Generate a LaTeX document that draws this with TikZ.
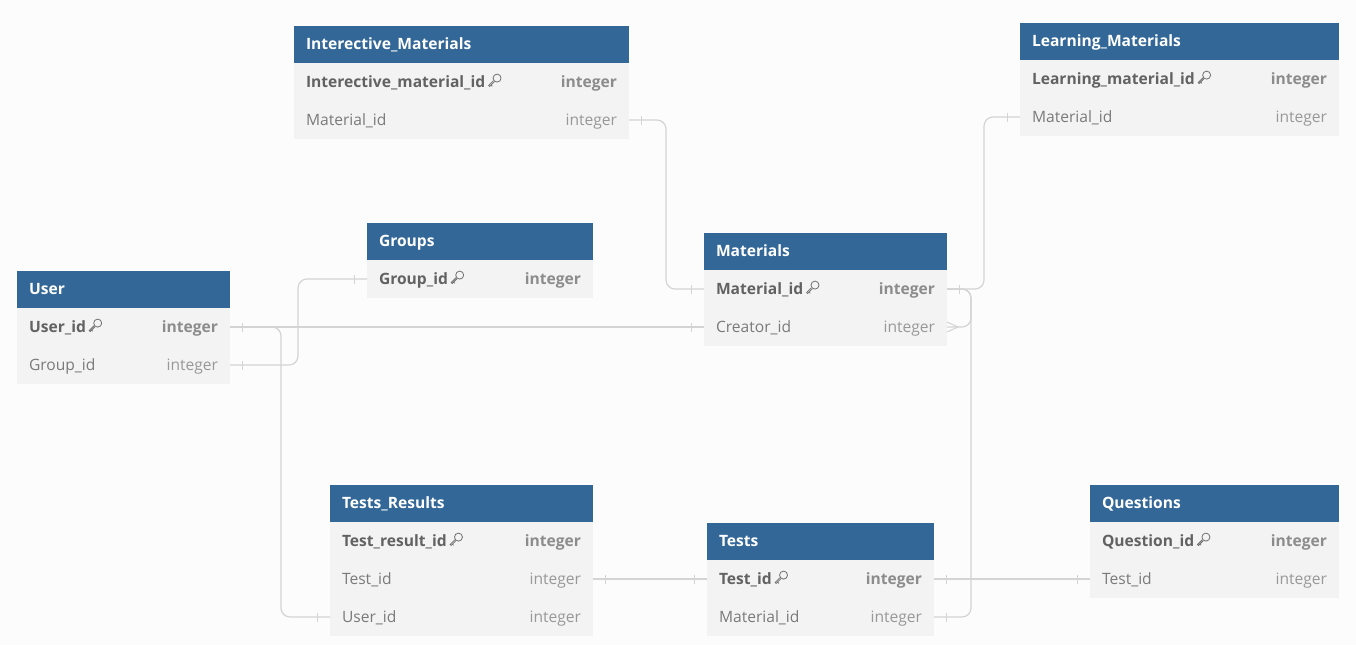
\documentclass[tikz,border=0pt]{standalone}
\usepackage{fontspec}
\setmainfont{Open Sans}
\usepackage{tikz}
\usetikzlibrary{positioning, decorations.markings}
\definecolor{headblue}{RGB}{50,103,151}
\definecolor{rowgray}{RGB}{243,243,243}
\definecolor{bgwhite}{RGB}{252,252,252}
\definecolor{linegray}{RGB}{212,212,212}
\definecolor{pkname}{RGB}{98,98,98}
\definecolor{pktype}{RGB}{140,140,140}
\definecolor{fkname}{RGB}{122,122,122}
\definecolor{fktype}{RGB}{152,152,152}
\definecolor{keygray}{RGB}{112,112,112}

\newcommand{\erfont}{\fontsize{15.6}{18}\selectfont}
\newcommand{\keyicon}{\tikz[baseline=-1pt, x=1pt, y=1pt, line width=0.8pt, sharp corners]{%
  \draw[keygray] (8.4,8.4) circle (4);
  \draw[keygray] (5.8,4.8) -- (1,0) -- (0,1) -- (4.8,5.8)
                 (2.4,1.4) -- (3.6,0.2);}}
\newcommand{\pkrow}[2]{{\bfseries\color{pkname}#1\hspace{3pt}\keyicon}\hfill{\bfseries\color{pktype}#2}}
\newcommand{\fkrow}[2]{{\color{fkname}#1}\hfill{\color{fktype}#2}}

\begin{document}
\begin{tikzpicture}[x=1pt, y=-1pt,
  tablehead/.style={rectangle, fill=headblue, text=white, font=\erfont\bfseries, anchor=north west, outer sep=0pt, inner xsep=12pt, inner ysep=0pt, minimum height=37pt, text height=10pt, text depth=0pt, text width=#1},
  field/.style={rectangle, fill=rowgray, font=\erfont, outer sep=0pt, inner xsep=12pt, inner ysep=0pt, minimum height=38pt, text height=11pt, text depth=0pt, text width=#1},
  link/.style={draw=linegray, line width=1.2pt, rounded corners=9pt},
  ends/.style={postaction={decorate}, decoration={markings,
    mark=at position 12.5pt with {\draw[linegray, line width=1pt, sharp corners] (0,-4.5pt) -- (0,4.5pt);},
    mark=at position -12.5pt with {\draw[linegray, line width=1pt, sharp corners] (0,-4.5pt) -- (0,4.5pt);}}},
  crowstart/.style={postaction={decorate}, decoration={markings,
    mark=at position 0pt with {\draw[linegray, line width=1pt, sharp corners] (0,-5pt) -- (11pt,0) -- (0,5pt);}}}
]

\fill[bgwhite] (0,0) rectangle (1356,645);
\useasboundingbox (0,0) rectangle (1356,645);

% --- User ---
\node[tablehead=189pt] (user) at (17,271) {User};
\node[field=189pt, below=0pt of user] (user-id) {\pkrow{User\_id}{integer}};
\node[field=189pt, below=0pt of user-id] (user-group) {\fkrow{Group\_id}{integer}};

% --- Groups ---
\node[tablehead=202pt] (groups) at (367,223) {Groups};
\node[field=202pt, below=0pt of groups] (groups-id) {\pkrow{Group\_id}{integer}};

% --- Interective_Materials ---
\node[tablehead=311pt] (inter) at (294,26) {Interective\_Materials};
\node[field=311pt, below=0pt of inter] (inter-id) {\pkrow{Interective\_material\_id}{integer}};
\node[field=311pt, below=0pt of inter-id] (inter-mat) {\fkrow{Material\_id}{integer}};

% --- Learning_Materials ---
\node[tablehead=295pt] (learning) at (1020,23) {Learning\_Materials};
\node[field=295pt, below=0pt of learning] (learning-id) {\pkrow{Learning\_material\_id}{integer}};
\node[field=295pt, below=0pt of learning-id] (learning-mat) {\fkrow{Material\_id}{integer}};

% --- Materials ---
\node[tablehead=219pt] (materials) at (704,233) {Materials};
\node[field=219pt, below=0pt of materials] (materials-id) {\pkrow{Material\_id}{integer}};
\node[field=219pt, below=0pt of materials-id] (materials-creator) {\fkrow{Creator\_id}{integer}};

% --- Tests_Results ---
\node[tablehead=239pt] (results) at (330,485) {Tests\_Results};
\node[field=239pt, below=0pt of results] (results-id) {\pkrow{Test\_result\_id}{integer}};
\node[field=239pt, below=0pt of results-id] (results-test) {\fkrow{Test\_id}{integer}};
\node[field=239pt, below=0pt of results-test] (results-user) {\fkrow{User\_id}{integer}};

% --- Tests ---
\node[tablehead=203pt] (tests) at (707,523) {Tests};
\node[field=203pt, below=0pt of tests] (tests-id) {\pkrow{Test\_id}{integer}};
\node[field=203pt, below=0pt of tests-id] (tests-mat) {\fkrow{Material\_id}{integer}};

% --- Questions ---
\node[tablehead=225pt] (questions) at (1090,485) {Questions};
\node[field=225pt, below=0pt of questions] (questions-id) {\pkrow{Question\_id}{integer}};
\node[field=225pt, below=0pt of questions-id] (questions-test) {\fkrow{Test\_id}{integer}};

% Verbindungen
\draw[link, ends] (user-id.east) -- (materials-creator.west);
\draw[link, ends] (user-id.east) -- ++(51,0) |- (results-user.west);
\draw[link, ends] (user-group.east) -- ++(68,0) |- (groups-id.west);
\draw[link, ends] (inter-mat.east) -- ++(37,0) |- (materials-id.west);
\draw[link, ends] (learning-mat.west) -- ++(-36,0) |- (materials-id.east);
\draw[link, ends] (materials-id.east) -- ++(24,0) |- (tests-mat.east);
\draw[link, crowstart] (materials-creator.east) -- ++(24,0) |- (materials-id.east);
\draw[link, ends] (results-test.east) -- (tests-id.west);
\draw[link, ends] (tests-id.east) -- (questions-test.west);
\end{tikzpicture}
\end{document}
